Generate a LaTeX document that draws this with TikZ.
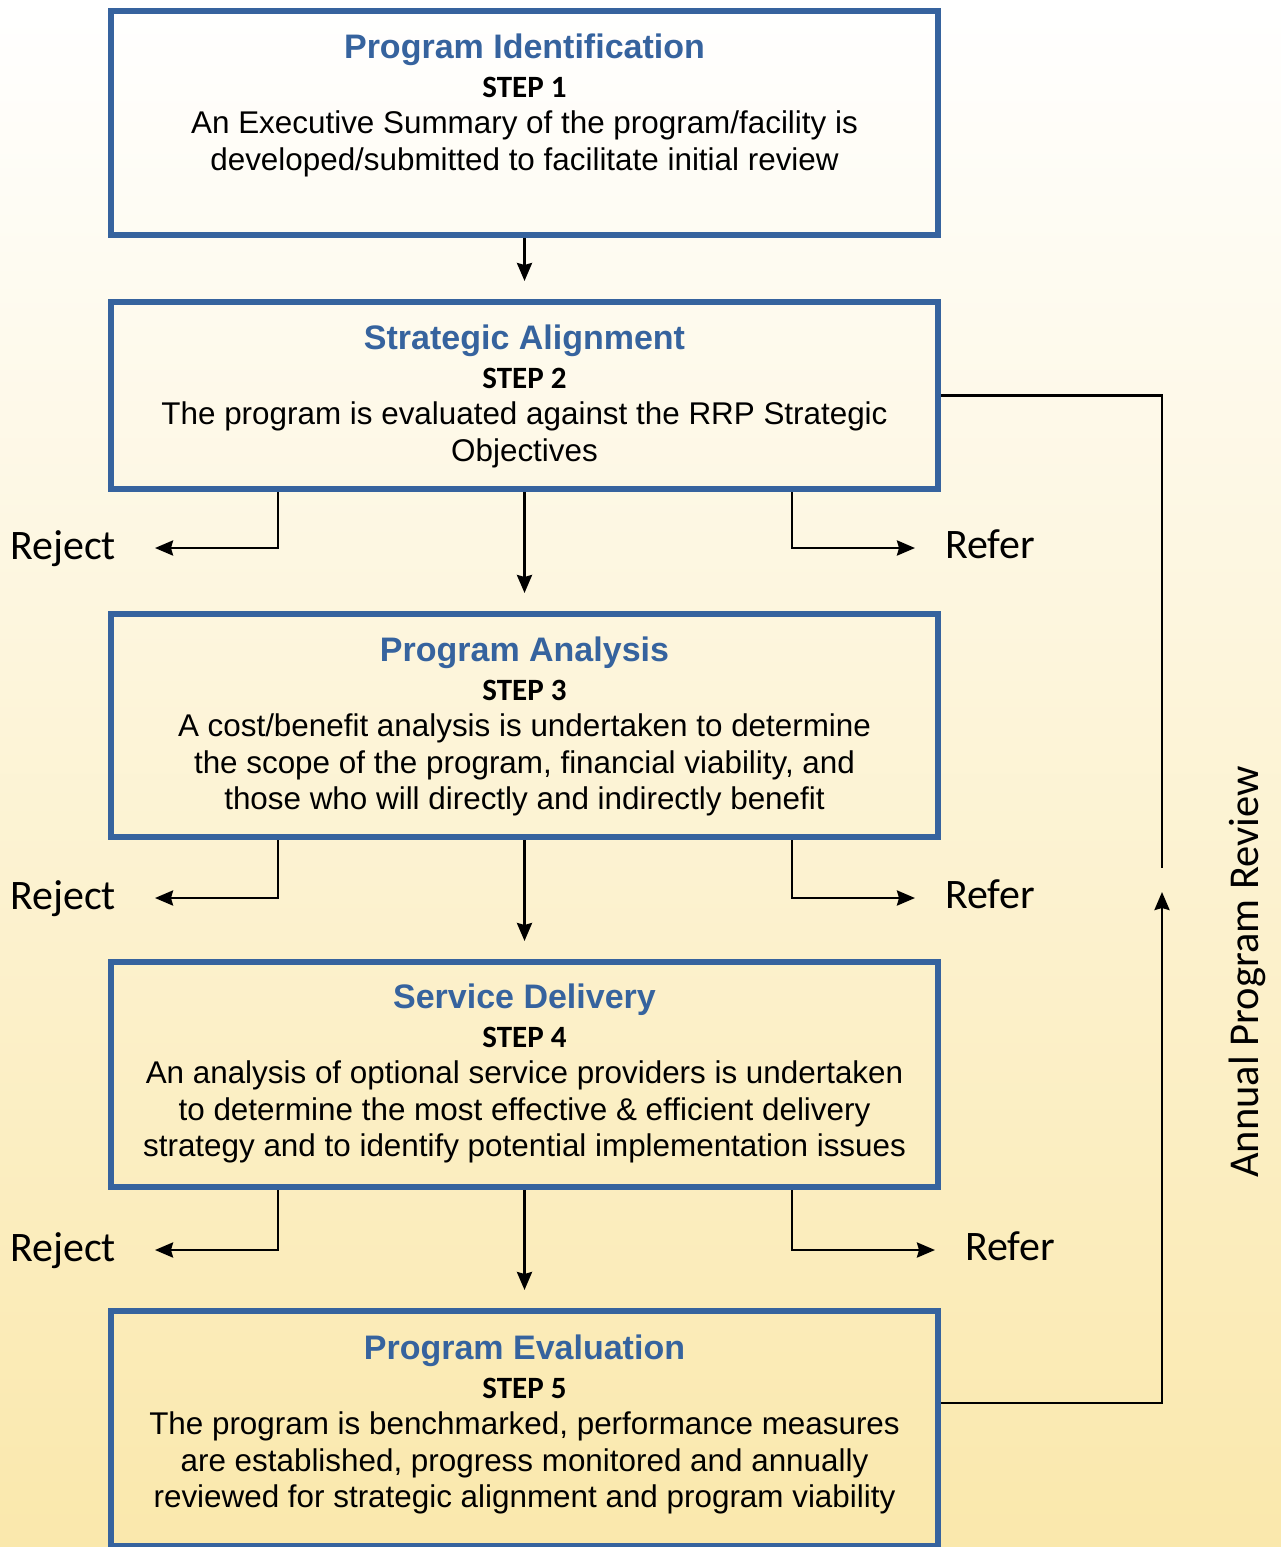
\documentclass[tikz,border=0pt]{standalone}
\usepackage{fontspec}
\setmainfont{Liberation Sans}
\newfontfamily\calfont{Carlito}
\usepackage{xcolor}
\usetikzlibrary{arrows.meta, positioning, calc}

\definecolor{stepblue}{RGB}{54,99,158}
\definecolor{bgtop}{RGB}{255,255,255}
\definecolor{bgbottom}{RGB}{250,232,172}

\newcommand{\steptitle}[1]{{\color{stepblue}\bfseries\fontsize{34}{36.5}\selectfont #1}}
\newcommand{\stepno}[1]{{\calfont\bfseries\fontsize{31}{36.5}\selectfont #1}}

\tikzset{
  stepbox/.style={draw=stepblue, line width=6pt, minimum width=827pt, inner sep=0pt},
  steptext/.style={anchor=north, align=center, inner sep=0pt, font=\fontsize{31.4}{36.5}\selectfont},
  sidelabel/.style={inner sep=0pt, font=\calfont\fontsize{42}{48}\selectfont},
  arr/.style={->, line width=2.8pt},
  loopline/.style={line width=2.8pt},
}

\begin{document}
\begin{tikzpicture}[x=1pt, y=-1pt, >={Stealth[length=18pt,width=15pt,inset=2pt]}]
    \useasboundingbox (0, 0) rectangle (1281, 1547);
    \fill[top color=bgtop, bottom color=bgbottom] (0, 0) rectangle (1281, 1547);

    % step boxes
    \node[stepbox, minimum height=224pt] (s1) at (524.5, 123) {};
    \node[stepbox, minimum height=187pt] (s2) at (524.5, 395.5) {};
    \node[stepbox, minimum height=223pt] (s3) at (524.5, 725.5) {};
    \node[stepbox, minimum height=225pt] (s4) at (524.5, 1074.5) {};
    \node[stepbox, minimum height=235pt] (s5) at (524.5, 1428.5) {};

    \node[steptext] (t1) at ([yshift=-26pt]s1.north) {\steptitle{Program Identification}\\[2pt] \stepno{STEP 1}\\
      An Executive Summary of the program/facility is\\ developed/submitted to facilitate initial review};
    \node[steptext] (t2) at ([yshift=-26pt]s2.north) {\steptitle{Strategic Alignment}\\[2pt] \stepno{STEP 2}\\
      The program is evaluated against the RRP Strategic\\ Objectives};
    \node[steptext] (t3) at ([yshift=-26pt]s3.north) {\steptitle{Program Analysis}\\[2pt] \stepno{STEP 3}\\
      A cost/benefit analysis is undertaken to determine\\ the scope of the program, financial viability, and\\
      those who will directly and indirectly benefit};
    \node[steptext] (t4) at ([yshift=-25pt]s4.north) {\steptitle{Service Delivery}\\[2pt] \stepno{STEP 4}\\
      An analysis of optional service providers is undertaken\\ to determine the most effective \& efficient delivery\\
      strategy and to identify potential implementation issues};
    \node[steptext] (t5) at ([yshift=-27pt]s5.north) {\steptitle{Program Evaluation}\\[2pt] \stepno{STEP 5}\\
      The program is benchmarked, performance measures\\ are established, progress monitored and annually\\
      reviewed for strategic alignment and program viability};

    % main flow
    \draw[arr, shorten >=18pt] (s1) -- (s2);
    \draw[arr, shorten >=18pt] (s2) -- (s3);
    \draw[arr, shorten >=18pt] (s3) -- (s4);
    \draw[arr, shorten >=18pt] (s4) -- (s5);

    % reject / refer branches
    \coordinate (rj2) at (155, 548);
    \coordinate (rf2) at (915, 548);
    \coordinate (rj3) at (155, 898);
    \coordinate (rf3) at (915, 898);
    \coordinate (rj4) at (155, 1250);
    \coordinate (rf4) at (935, 1250);

    \node[sidelabel, anchor=base west] (reject2) at (10, 559) {Reject};
    \node[sidelabel, anchor=base west] (refer2) at (945, 558) {Refer};
    \node[sidelabel, anchor=base west] (reject3) at (10, 909) {Reject};
    \node[sidelabel, anchor=base west] (refer3) at (945, 908) {Refer};
    \node[sidelabel, anchor=base west] (reject4) at (10, 1261) {Reject};
    \node[sidelabel, anchor=base west] (refer4) at (965, 1260) {Refer};

    \draw[arr] ([xshift=-246.5pt]s2.south) |- (rj2);
    \draw[arr] ([xshift=267.5pt]s2.south) |- (rf2);
    \draw[arr] ([xshift=-246.5pt]s3.south) |- (rj3);
    \draw[arr] ([xshift=267.5pt]s3.south) |- (rf3);
    \draw[arr] ([xshift=-246.5pt]s4.south) |- (rj4);
    \draw[arr] ([xshift=267.5pt]s4.south) |- (rf4);

    % annual review loop
    \coordinate (lp2) at (1162, 868);
    \coordinate (lp5) at (1162, 892);
    \draw[loopline] (s2.east) -| (lp2);
    \draw[arr] ([yshift=25.5pt]s5.east) -| (lp5);

    \node[sidelabel, rotate=90, font=\calfont\fontsize{42.5}{48}\selectfont] (review) at (1247, 972) {Annual Program Review};
\end{tikzpicture}
\end{document}
